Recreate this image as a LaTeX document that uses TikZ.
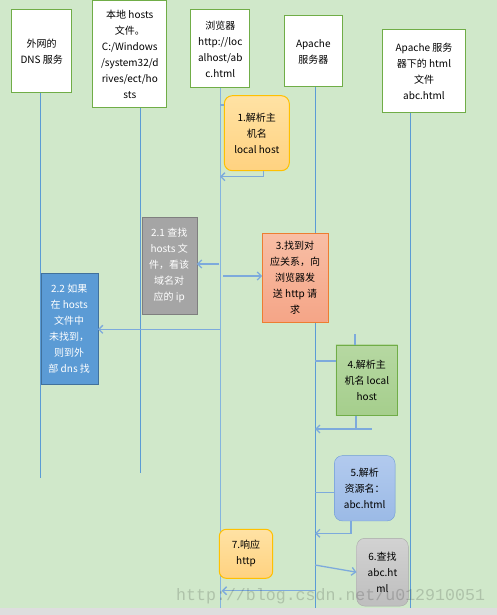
\documentclass[tikz,border=0pt]{standalone}
\usepackage{fontspec}
\setmainfont{Noto Sans CJK SC}
\newfontfamily\wmfont{Liberation Mono}
\usetikzlibrary{arrows.meta}
\definecolor{bggreen}{RGB}{208,232,202}
\definecolor{hdgreen}{RGB}{112,173,71}
\definecolor{lifeblue}{RGB}{91,155,213}
\definecolor{linkblue}{RGB}{125,170,220}

\begin{document}
\begin{tikzpicture}[x=1pt, y=-1pt, >={Straight Barb[length=4pt,width=8pt]},
  every node/.style={font=\fontsize{10}{16}\selectfont, align=center, inner sep=0pt},
  head/.style={draw=hdgreen, line width=1pt, fill=white},
  life/.style={draw=lifeblue, line width=0.8pt},
  link/.style={draw=linkblue, line width=1.3pt},
  orangebox/.style={draw={rgb,255:red,255;green,192;blue,0}, line width=1pt, rounded corners=8pt,
    top color={rgb,255:red,255;green,226;blue,164}, bottom color={rgb,255:red,255;green,210;blue,128}}]
\fill[bggreen] (0,0) rectangle (497,615);
\fill[black!13] (0,607.7) rectangle (497,615);
\useasboundingbox (0,0) rectangle (497,615);

% participants
\node[head, minimum width=60pt, minimum height=83pt] (dns) at (41.7,51.5) {外网的\\DNS 服务};
\node[head, minimum width=73.7pt, minimum height=107pt] (hosts) at (129.8,54.5) {本地 hosts\\文件。\\C:/Windows\\/system32/d\\rives/ect/ho\\sts};
\node[head, minimum width=59.3pt, minimum height=78pt] (brw) at (220.3,49) {浏览器\\http://loc\\alhost/ab\\c.html};
\node[head, minimum width=58pt, minimum height=71pt] (apa) at (313.3,51.5) {Apache\\服务器};
\node[head, minimum width=83.4pt, minimum height=83pt] (htm) at (424,71.5) {Apache 服务\\器下的 html\\文件\\abc.html};

% lifelines
\coordinate (dnsend) at (40.7,477.7);
\coordinate (hostsend) at (140,472.7);
\coordinate (brwend) at (220.5,607.7);
\coordinate (apaend) at (315.5,607.7);
\coordinate (htmend) at (410.7,607.7);
\draw[life] (dns.south -| dnsend) -- (dnsend);
\draw[life] (hosts.south -| hostsend) -- (hostsend);
\draw[life, line width=1.4pt, draw=lifeblue!75] (brw.south -| brwend) -- (brwend);
\draw[life] (apa.south -| apaend) -- (apaend);
\draw[life] (htm.south -| htmend) -- (htmend);

% steps
\node[orangebox, minimum width=65pt, minimum height=75pt] (s1) at (256.8,133.2) {1.解析主\\机名\\local host};
\node[draw={rgb,255:red,127;green,127;blue,127}, fill={rgb,255:red,165;green,165;blue,165}, text=white,
  minimum width=55pt, minimum height=97pt] (s21) at (169.2,265.8) {2.1 查找\\hosts 文\\件，看该\\域名对\\应的 ip};
\node[draw={rgb,255:red,237;green,125;blue,49}, top color={rgb,255:red,248;green,190;blue,165},
  bottom color={rgb,255:red,245;green,165;blue,135}, minimum width=65.4pt, minimum height=88.4pt] (s3) at (295,277.5) {3.找到对\\应关系，向\\浏览器发\\送 http 请\\求};
\node[draw={rgb,255:red,65;green,113;blue,156}, fill=lifeblue, text=white,
  minimum width=57pt, minimum height=111pt] (s22) at (69.2,328.8) {2.2 如果\\在 hosts\\文件中\\未找到，\\则到外\\部 dns 找};
\node[draw=hdgreen, top color={rgb,255:red,182;green,216;blue,162}, bottom color={rgb,255:red,165;green,206;blue,140},
  minimum width=61.7pt, minimum height=70.7pt] (s4) at (366.8,380.3) {4.解析主\\机名 local\\host};
\node[draw={rgb,255:red,110;green,155;blue,216}, rounded corners=8pt, top color={rgb,255:red,178;green,202;blue,238},
  bottom color={rgb,255:red,155;green,186;blue,230}, minimum width=60.7pt, minimum height=65.3pt] (s5) at (364.7,488.3) {5.解析\\资源名：\\abc.html};
\node[draw={rgb,255:red,168;green,168;blue,168}, rounded corners=8pt, top color={rgb,255:red,210;green,210;blue,210},
  bottom color={rgb,255:red,190;green,190;blue,190}, minimum width=51.6pt, minimum height=67.7pt] (s6) at (382.5,572.2) {6.查找\\abc.ht\\ml};
\node[orangebox, rounded corners=7pt, minimum width=53.4pt, minimum height=49pt] (s7) at (246,553.8) {7.响应\\http};

% messages
\coordinate (a1) at (220,105);
\coordinate (r1) at (220,176.7);
\draw[link] (a1) -- (a1 -| s1.west);
\draw[link, ->] ([xshift=6.5pt]s1.south) |- (r1);
\coordinate (a21) at (219.3,264);
\draw[link, ->] (a21) -- (a21 -| s21.east);
\coordinate (a3) at (223.3,276);
\draw[link, ->] (a3) -- (a3 -| s3.west);
\coordinate (a22) at (220,329.3);
\draw[link, ->] (a22) -- (a22 -| s22.east);
\coordinate (a4) at (315,361);
\coordinate (r4) at (315,429);
\coordinate (r4b) at (371.7,429);
\draw[link] ([xshift=-11.8pt]s4.north) -- ++(0,-11);
\draw[link] (a4) -- (a4 -| s4.west);
\draw[link] ([xshift=-10.8pt]s4.south) -- ++(0,13.3);
\draw[link, ->] (r4b) -- (r4);
\coordinate (a5) at (315,492.3);
\coordinate (r5) at (315,533.3);
\draw[link] (a5) -- (a5 -| s5.west);
\draw[link, ->] ([xshift=-13.7pt]s5.south) |- (r5);
\coordinate (a6) at (315,565);
\draw[link, ->] (a6) -- (s6.west);
\coordinate (a7a) at (315,590.7);
\coordinate (a7b) at (221.7,590.7);
\draw[link, ->] (a7a) -- (a7b);

\node[font=\wmfont\fontsize{16.6}{18}\selectfont, text=black, text opacity=0.16, anchor=base west] (wm) at (176,600) {http://blog.csdn.net/u012910051};
\end{tikzpicture}
\end{document}
